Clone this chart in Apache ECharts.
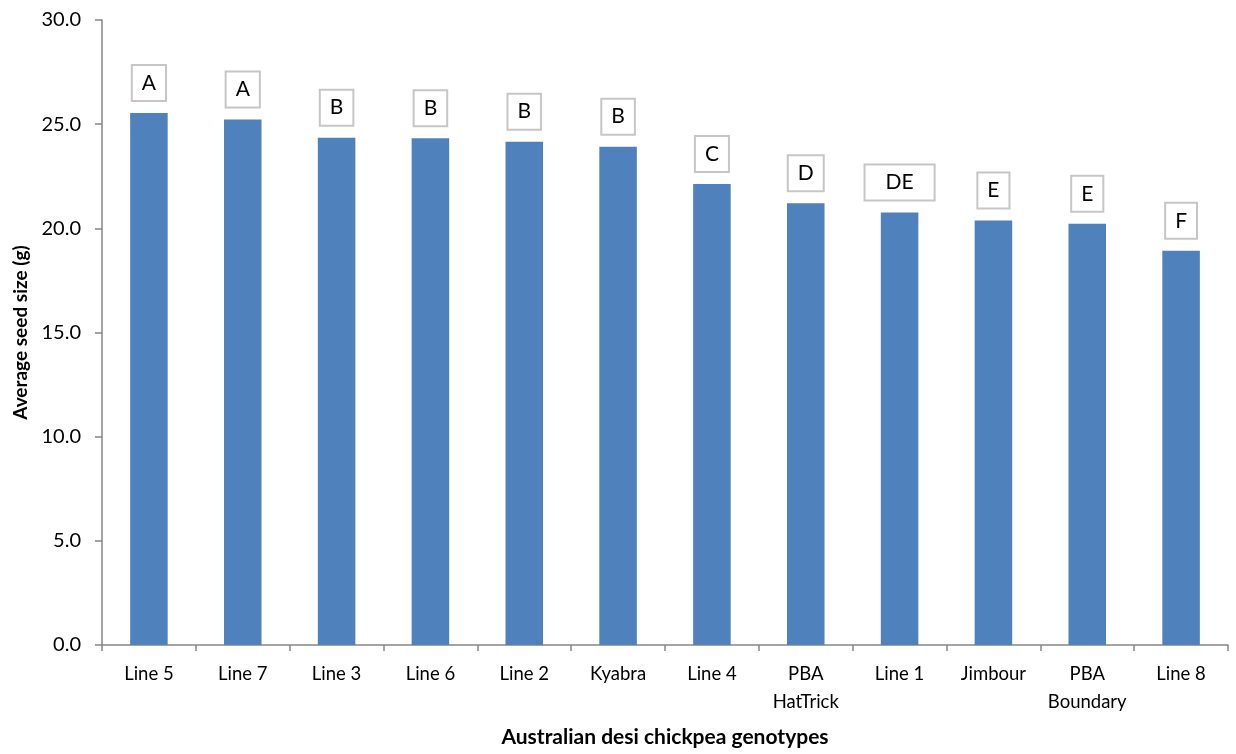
<!DOCTYPE html>
<html>
<head>
<meta charset="utf-8">
<script src="https://cdn.jsdelivr.net/npm/echarts@6/dist/echarts.min.js"></script>
<style>
  html, body { margin: 0; padding: 0; background: #fff; }
  #chart { width: 1236px; height: 754px; }
</style>
</head>
<body>
<div id="chart"></div>
<script>
var genotypes = ['Line 5', 'Line 7', 'Line 3', 'Line 6', 'Line 2', 'Kyabra', 'Line 4', 'PBA\nHatTrick', 'Line 1', 'Jimbour', 'PBA\nBoundary', 'Line 8']
var seedSize = [25.54, 25.22, 24.35, 24.32, 24.16, 23.92, 22.13, 21.21, 20.76, 20.38, 20.22, 18.92]
var groups = ['A', 'A', 'B', 'B', 'B', 'B', 'C', 'D', 'DE', 'E', 'E', 'F']
var yTicks = [0, 5, 10, 15, 20, 25, 30]

var font = 'Lato, "Open Sans", sans-serif'
var myChart = echarts.init(document.getElementById('chart'))

var option = {
  animation: false,
  grid: {
    left: 102,
    top: 20,
    right: 8,
    bottom: 109
  },
  xAxis: {
    type: 'category',
    data: genotypes,
    name: 'Australian desi chickpea genotypes',
    nameLocation: 'middle',
    nameGap: 82,
    nameTextStyle: {
      fontFamily: font,
      fontSize: 21,
      fontWeight: 'bold',
      color: '#000'
    },
    axisLine: {
      lineStyle: { color: '#868686', width: 1.5 }
    },
    axisTick: {
      show: true,
      length: 6,
      lineStyle: { color: '#868686', width: 1.5 }
    },
    axisLabel: {
      interval: 0,
      margin: 15,
      fontFamily: font,
      fontSize: 18.5,
      lineHeight: 28,
      color: '#000'
    }
  },
  yAxis: {
    type: 'value',
    min: yTicks[0],
    max: yTicks[yTicks.length - 1],
    interval: 5,
    name: 'Average seed size (g)',
    nameLocation: 'middle',
    nameGap: 70,
    nameTextStyle: {
      fontFamily: font,
      fontSize: 19,
      fontWeight: 'bold',
      color: '#000'
    },
    axisLine: {
      show: true,
      lineStyle: { color: '#868686', width: 1.5 }
    },
    axisTick: {
      show: true,
      length: 7,
      lineStyle: { color: '#868686', width: 1.5 }
    },
    splitLine: { show: false },
    axisLabel: {
      margin: 21,
      fontFamily: font,
      fontSize: 20,
      color: '#000',
      formatter: function (v) { return v.toFixed(1) }
    }
  },
  series: [
    {
      type: 'bar',
      barWidth: '40%',
      itemStyle: {
        color: '#4F81BD'
      },
      data: seedSize.map(function (v, i) {
        return {
          value: v,
          label: {
            formatter: groups[i],
            padding: groups[i].length > 1 ? [7, 20] : [7, 9]
          }
        }
      }),
      label: {
        show: true,
        position: 'top',
        distance: 13,
        fontFamily: font,
        fontSize: 21,
        lineHeight: 20,
        color: '#000',
        backgroundColor: '#fff',
        borderColor: '#c6c6c6',
        borderWidth: 2
      }
    }
  ]
}

option && myChart.setOption(option)
window.addEventListener('resize', function () {
  myChart.resize()
})
</script>
</body>
</html>
